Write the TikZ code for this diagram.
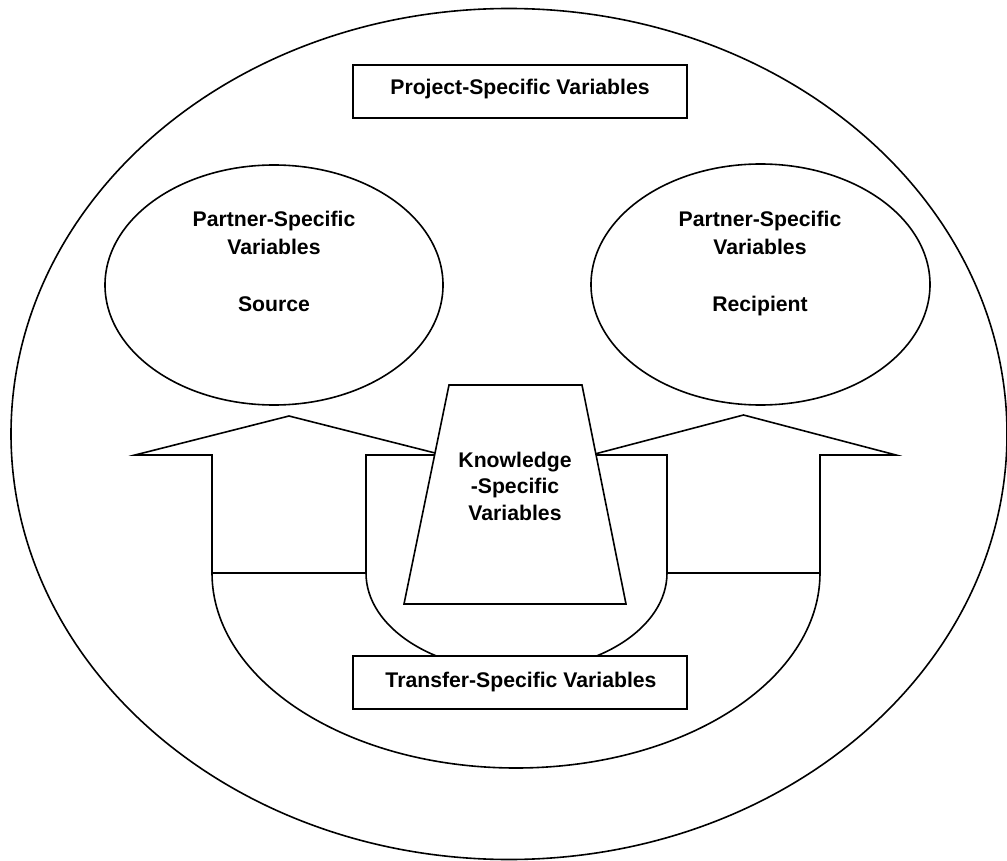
\documentclass[tikz,border=0pt]{standalone}
\usepackage{fontspec}
\setmainfont{Liberation Sans}
\usetikzlibrary{shapes.geometric}
\tikzset{
  ln/.style={line width=1.6pt, line join=miter},
  boxnode/.style={draw, ln, fill=white, rectangle, inner sep=0pt},
  lbl/.style={anchor=base, inner sep=0pt, font=\fontsize{21.2}{26}\selectfont\bfseries},
}
\begin{document}
\begin{tikzpicture}[x=1pt,y=-1pt]
\useasboundingbox (0,0) rectangle (1007,861);
% outer ellipse
\node[ellipse, draw, ln, minimum width=996pt, minimum height=851pt, inner sep=0pt] (outer) at (509,434) {};
% project box
\node[boxnode, minimum width=334pt, minimum height=53pt] (projbox) at (520,91.5) {};
\node[lbl] (projtxt) at (520,95) {Project-Specific Variables};
% partner ellipses
\node[ellipse, draw, ln, minimum width=338pt, minimum height=240pt, inner sep=0pt] (src) at (274,285) {};
\node[ellipse, draw, ln, minimum width=339pt, minimum height=241pt, inner sep=0pt] (rec) at (760.5,284.5) {};
\node[lbl] (s1) at (274,227) {Partner-Specific};
\node[lbl] (s2) at (274,254.5) {Variables};
\node[lbl] (s3) at (274,311.5) {Source};
\node[lbl] (r1) at (760,227) {Partner-Specific};
\node[lbl] (r2) at (760,254.5) {Variables};
\node[lbl] (r3) at (760,311.5) {Recipient};
% U-shaped double arrow
\coordinate (la) at (212,573);
\coordinate (lb) at (366,573);
\coordinate (ra) at (667,573);
\coordinate (rb) at (820,573);
\draw[ln, fill=white] (la) -- (212,455) -- (135,455) -- (289,416) -- (443,455) -- (366,455) -- (lb)
  arc[start angle=180, end angle=0, x radius=150.5, y radius=98]
  -- (667,455) -- (591,455) -- (743.5,415) -- (896,455) -- (820,455) -- (rb)
  arc[start angle=0, end angle=180, x radius=304, y radius=195] -- cycle;
\draw[ln] (la) -- (lb);
\draw[ln] (ra) -- (rb);
% knowledge trapezoid
\coordinate (k1) at (449,385);
\coordinate (k2) at (582,385);
\coordinate (k3) at (626,604);
\coordinate (k4) at (404,604);
\draw[ln, fill=white] (k1) -- (k2) -- (k3) -- (k4) -- cycle;
\node[lbl] (k1t) at (515,467.5) {Knowledge};
\node[lbl] (k2t) at (515,493.5) {-Specific};
\node[lbl] (k3t) at (515,520.5) {Variables};
% transfer box
\node[boxnode, minimum width=334pt, minimum height=53pt] (trbox) at (520,682.5) {};
\node[lbl] (trtxt) at (521,687) {Transfer-Specific Variables};
\end{tikzpicture}
\end{document}
